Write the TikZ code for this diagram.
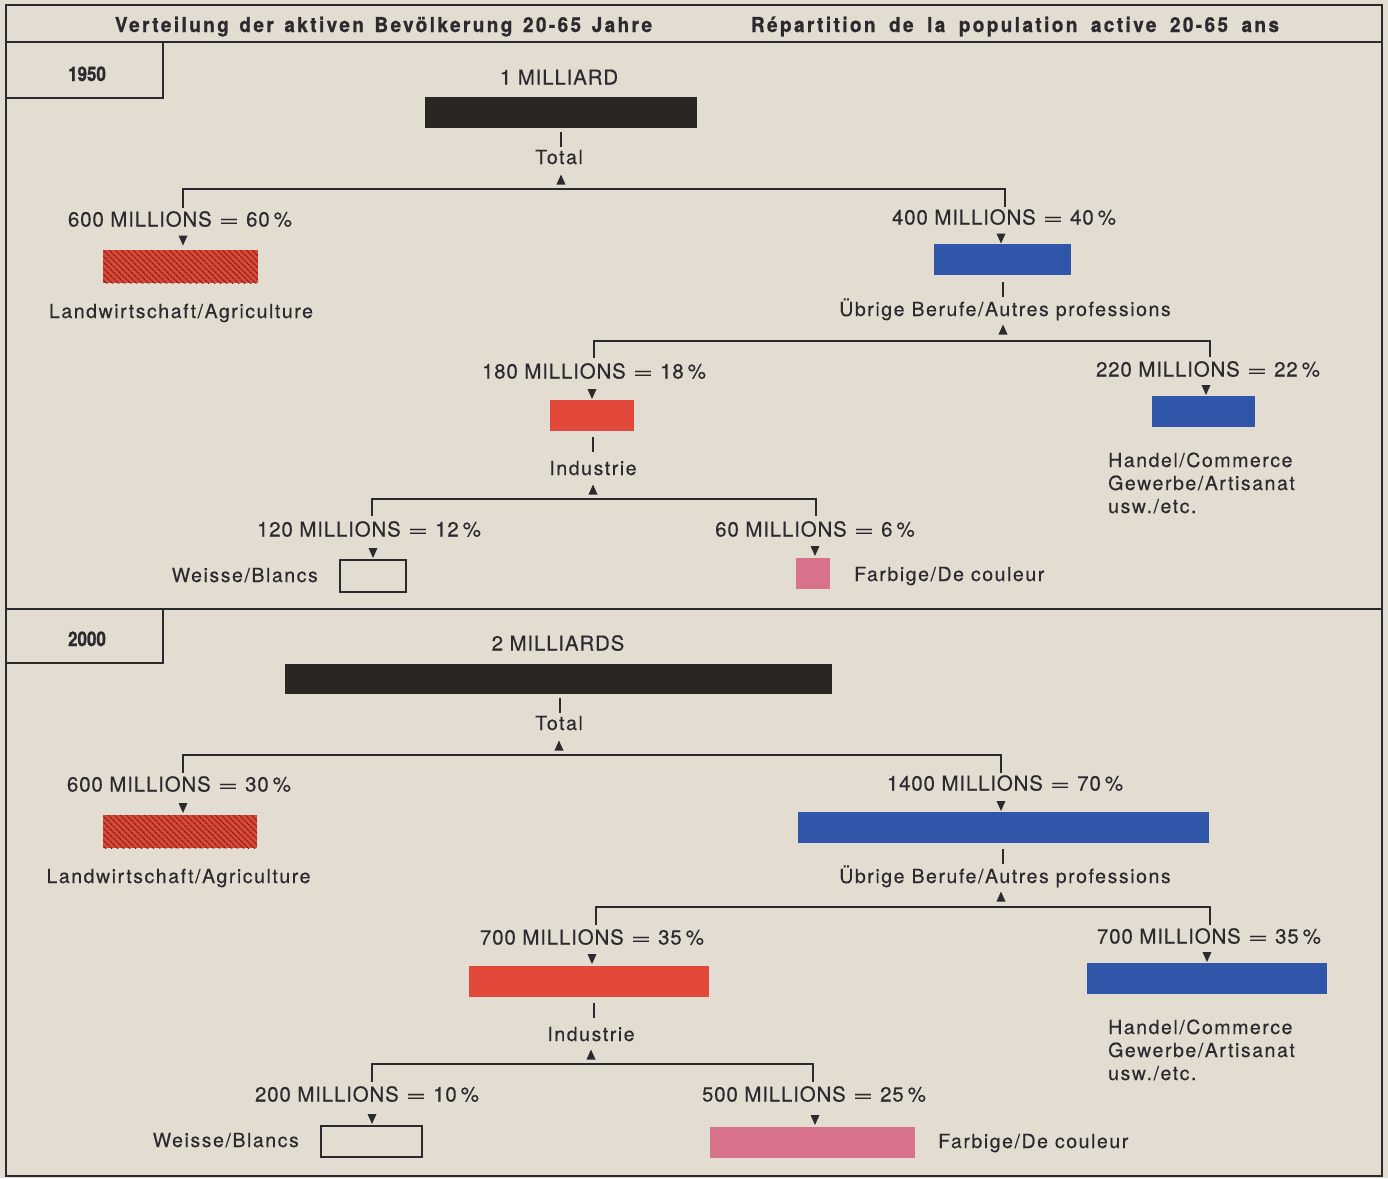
\documentclass[tikz,border=0pt]{standalone}
\usepackage{fontspec}
\setmainfont{TeX Gyre Heros}[LetterSpace=8,FakeBold=0.3]
\newfontfamily\numfont{TeX Gyre Heros}[LetterSpace=4,FakeBold=0.3]
\newfontfamily\headfont{TeX Gyre Heros}[FakeStretch=0.92,LetterSpace=12,FakeBold=1.2]
\newfontfamily\yearfont{TeX Gyre Heros}[FakeStretch=0.85,FakeBold=1.2]
\usetikzlibrary{patterns.meta,calc}
\definecolor{paper}{HTML}{E3DCD0}
\definecolor{ink}{HTML}{2B2A2E}
\definecolor{barblack}{HTML}{2A2624}
\definecolor{redbar}{HTML}{E2483A}
\definecolor{bluebar}{HTML}{2F56A8}
\definecolor{pinkbar}{HTML}{D8718A}
\definecolor{hatchred}{HTML}{DE4636}
\definecolor{hatchdark}{HTML}{6A231C}
\newcommand{\eqs}{\hspace{7pt}\scalebox{1.7}[1]{=}\hspace{7pt}}
\newcommand{\pct}{\hspace{4pt}\%}
\begin{document}
\begin{tikzpicture}[x=1pt,y=-1pt,
  every node/.style={text=ink},
  bar/.style={inner sep=0pt, outer sep=0pt},
  hatchbar/.style={bar, fill=hatchred, postaction={pattern={Lines[angle=-45,distance=4pt,line width=1.1pt]}, pattern color=hatchdark}},
  outlinebar/.style={bar, draw=ink, line width=2.4pt},
  big/.style={font=\numfont\fontsize{20.5}{24}\selectfont, anchor=base, inner sep=0pt},
  lbl/.style={font=\fontsize{19.5}{23}\selectfont, anchor=base, inner sep=0pt},
  head/.style={font=\headfont\bfseries\fontsize{20.5}{24}\selectfont, anchor=base, inner sep=0pt},
  yearlbl/.style={font=\yearfont\bfseries\fontsize{20}{24}\selectfont, anchor=base, inner sep=0pt},
  tree/.style={draw=ink, line width=2pt},
  tick/.style={draw=ink, line width=2.6pt},
  frame/.style={draw=ink, line width=2.6pt},
  dn/.pic={\fill[ink] (-4.5,-5) -- (4.5,-5) -- (0,5) -- cycle;},
  up/.pic={\fill[ink] (-4.5,5) -- (4.5,5) -- (0,-5) -- cycle;}
]
\fill[paper] (0,0) rectangle (1388,1178);
\useasboundingbox (0,0) rectangle (1388,1178);

% frame
\draw[frame] (6,5) rectangle (1382,1176);
\draw[frame] (6,42) -- (1382,42);
\draw[frame] (6,609) -- (1382,609);
\draw[frame] (163,42) -- (163,98) -- (6,98);
\draw[frame] (163,609) -- (163,663) -- (6,663);

% header
\node[head] (hde) at (383.5,32) {\makebox[537pt][s]{Verteilung der aktiven Bevölkerung 20-65 Jahre}};
\node[head] (hfr) at (1015,32) {\makebox[528pt][s]{Répartition de la population active 20-65 ans}};
\node[yearlbl] (y1950) at (87,81) {1950};
\node[yearlbl] (y2000) at (87,646) {2000};

% ================= 1950 =================
\node[big] (m1) at (559,84.5) {1 MILLIARD};
\node[bar, fill=barblack, minimum width=272pt, minimum height=31pt] (tot1) at (561,112.5) {};
\draw[tick] (tot1.south) ++(0,4) -- ++(0,15);
\node[lbl] (t1) at (559,164) {Total};
\pic at (561,179.5) {up};
\coordinate (j1) at (561,189);
\coordinate (b1L) at (183,208);
\coordinate (b1R) at (1005,207);
\draw[tree] (b1L) |- (j1) -| (b1R);

\node[big] (n600a) at (180,226.5) {600 MILLIONS\eqs60\pct};
\pic at (183,240.5) {dn};
\node[hatchbar, minimum width=155pt, minimum height=33pt] (ag1) at (180.5,266.5) {};
\node[lbl] (lag1) at (181,318) {Landwirtschaft/Agriculture};

\node[big] (n400) at (1004,224.5) {400 MILLIONS\eqs40\pct};
\pic at (1001,238.5) {dn};
\node[bar, fill=bluebar, minimum width=137pt, minimum height=31pt] (ob1) at (1002.5,259.5) {};
\draw[tick] (ob1.south) ++(0.5,7) -- ++(0,15);
\node[lbl] (lob1) at (1005,316) {Übrige Berufe/Autres professions};
\pic at (1003,329.5) {up};
\coordinate (j2) at (1003,341);
\coordinate (b2L) at (594,358);
\coordinate (b2R) at (1210,357);
\draw[tree] (b2L) |- (j2) -| (b2R);

\node[big] (n180) at (594,378.5) {180 MILLIONS\eqs18\pct};
\pic at (592,394) {dn};
\node[bar, fill=redbar, minimum width=84pt, minimum height=31pt] (in1) at (592,415.5) {};
\draw[tick] (in1.south) ++(1,6) -- ++(0,15);
\node[lbl] (lin1) at (593,475) {Industrie};
\pic at (593,489.5) {up};
\coordinate (j3) at (593,499);
\coordinate (b3L) at (372,516);
\coordinate (b3R) at (816,516);
\draw[tree] (b3L) |- (j3) -| (b3R);

\node[big] (n220) at (1208,376.5) {220 MILLIONS\eqs22\pct};
\pic at (1206,390) {dn};
\node[bar, fill=bluebar, minimum width=103pt, minimum height=31pt] (ha1) at (1203.5,411.5) {};
\node[lbl, anchor=base west] (ha1a) at (1108,467) {Handel/Commerce};
\node[lbl, anchor=base west] (ha1b) at (1108,490) {Gewerbe/Artisanat};
\node[lbl, anchor=base west] (ha1c) at (1108,513) {usw./etc.};

\node[big] (n120) at (369,536.5) {120 MILLIONS\eqs12\pct};
\pic at (373,553) {dn};
\node[outlinebar, minimum width=66pt, minimum height=32pt] (we1) at (373,576) {};
\node[lbl, anchor=base east] (lwe1) at (318,582) {Weisse/Blancs};

\node[big] (n60) at (815,536.5) {60 MILLIONS\eqs6\pct};
\pic at (815,551) {dn};
\node[bar, fill=pinkbar, minimum width=34pt, minimum height=31pt] (fa1) at (813,573.5) {};
\node[lbl, anchor=base west] (lfa1) at (854,581) {Farbige/De couleur};

% ================= 2000 =================
\node[big] (m2) at (558,650.5) {2 MILLIARDS};
\node[bar, fill=barblack, minimum width=547pt, minimum height=30pt] (tot2) at (558.5,679) {};
\draw[tick] (tot2.south) ++(1.5,4) -- ++(0,15);
\node[lbl] (t2) at (559,730) {Total};
\pic at (559,745.5) {up};
\coordinate (j4) at (559,755);
\coordinate (b4L) at (183,773);
\coordinate (b4R) at (1001,773);
\draw[tree] (b4L) |- (j4) -| (b4R);

\node[big] (n600b) at (179,791.5) {600 MILLIONS\eqs30\pct};
\pic at (183,808) {dn};
\node[hatchbar, minimum width=154pt, minimum height=33pt] (ag2) at (180,831.5) {};
\node[lbl] (lag2) at (178.5,883) {Landwirtschaft/Agriculture};

\node[big] (n1400) at (1005,790.5) {1400 MILLIONS\eqs70\pct};
\pic at (1001,806) {dn};
\node[bar, fill=bluebar, minimum width=411pt, minimum height=31pt] (ob2) at (1003.5,827.5) {};
\draw[tick] (ob2.south) ++(-0.5,6) -- ++(0,15);
\node[lbl] (lob2) at (1005,883) {Übrige Berufe/Autres professions};
\pic at (1001,896.5) {up};
\coordinate (j5) at (1001,907);
\coordinate (b5L) at (596,925);
\coordinate (b5R) at (1210,925);
\draw[tree] (b5L) |- (j5) -| (b5R);

\node[big] (n700a) at (592,944.5) {700 MILLIONS\eqs35\pct};
\pic at (592,959) {dn};
\node[bar, fill=redbar, minimum width=240pt, minimum height=31pt] (in2) at (589,981.5) {};
\draw[tick] (in2.south) ++(5,6) -- ++(0,15);
\node[lbl] (lin2) at (591,1041) {Industrie};
\pic at (591,1054.5) {up};
\coordinate (j6) at (591,1064);
\coordinate (b6L) at (372,1082);
\coordinate (b6R) at (813,1082);
\draw[tree] (b6L) |- (j6) -| (b6R);

\node[big] (n700b) at (1209,943.5) {700 MILLIONS\eqs35\pct};
\pic at (1207,957) {dn};
\node[bar, fill=bluebar, minimum width=240pt, minimum height=31pt] (ha2) at (1207,978.5) {};
\node[lbl, anchor=base west] (ha2a) at (1108,1034) {Handel/Commerce};
\node[lbl, anchor=base west] (ha2b) at (1108,1057) {Gewerbe/Artisanat};
\node[lbl, anchor=base west] (ha2c) at (1108,1080) {usw./etc.};

\node[big] (n200) at (367,1101.5) {200 MILLIONS\eqs10\pct};
\pic at (372,1119) {dn};
\node[outlinebar, minimum width=101pt, minimum height=31pt] (we2) at (371.5,1141.5) {};
\node[lbl, anchor=base east] (lwe2) at (299,1147) {Weisse/Blancs};

\node[big] (n500) at (814,1101.5) {500 MILLIONS\eqs25\pct};
\pic at (815,1120) {dn};
\node[bar, fill=pinkbar, minimum width=205pt, minimum height=31pt] (fa2) at (812.5,1142.5) {};
\node[lbl, anchor=base west] (lfa2) at (938,1148) {Farbige/De couleur};
\end{tikzpicture}
\end{document}
